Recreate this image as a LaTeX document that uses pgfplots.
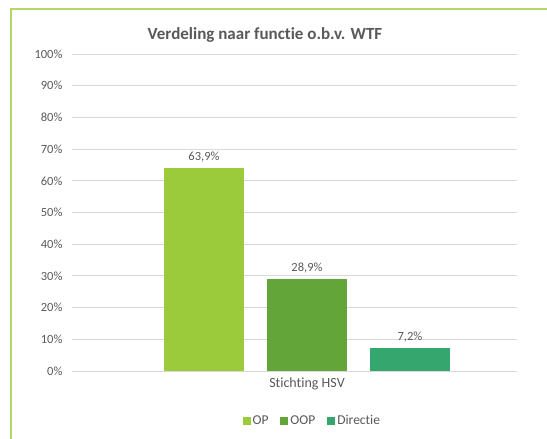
\documentclass[border=0pt]{standalone}
\usepackage{pgfplots}
\pgfplotsset{compat=1.18}
\usepackage{fontspec}
\setmainfont{Carlito}[Ligatures={NoCommon,NoRare,NoDiscretionary}]
\definecolor{cOP}{RGB}{155,203,59}
\definecolor{cOOP}{RGB}{99,165,57}
\definecolor{cDir}{RGB}{52,166,110}
\definecolor{frame}{RGB}{178,214,106}
\definecolor{txt}{RGB}{89,89,89}
\definecolor{gridc}{RGB}{217,217,217}
\begin{document}
\begin{tikzpicture}[x=1pt,y=1pt]
\useasboundingbox (0,0) rectangle (547,439);
\draw[frame,line width=1.2pt] (11,0) -- (11,430) -- (548,430);
\node[font=\bfseries\fontsize{17}{20}\selectfont, text=txt] at (265,404) {Verdeling naar functie o.b.v. WTF};
\begin{axis}[
  at={(72pt,68pt)}, anchor=south west,
  width=445pt, height=317pt, scale only axis,
  xmin=72, xmax=517, ymin=0, ymax=100,
  ytick={0,10,...,100},
  yticklabel={\pgfmathprintnumber{\tick}\%},
  xtick={307}, xticklabels={Stichting HSV},
  /pgf/number format/assume math mode=true,
  ticklabel style={font=\fontsize{12.5}{14}\selectfont, text=txt},
  y tick label style={xshift=-6pt},
  x tick label style={font=\fontsize{14}{16}\selectfont, yshift=-3pt},
  major tick length=0pt,
  ymajorgrids, grid style={gridc, line width=0.8pt},
  axis line style={draw=none},
  ybar, bar width=80, bar shift=0pt,
  nodes near coords style={font=\fontsize{12.5}{14}\selectfont, text=txt, yshift=3pt},
  legend style={at={(0.54,-0.158)}, anchor=center, draw=none, legend columns=3,
    font=\fontsize{13.5}{16}\selectfont, text=txt, /tikz/every even column/.append style={column sep=10pt},
    legend cell align=left},
  legend image code/.code={\fill[#1] (0,-4pt) rectangle (8pt,4pt);},
  clip=false,
]
\addplot[fill=cOP, draw=none, nodes near coords={63,9\%}] coordinates {(204,63.9)};
\addlegendentry{OP}
\addplot[fill=cOOP, draw=none, nodes near coords={28,9\%}] coordinates {(307,28.9)};
\addlegendentry{OOP}
\addplot[fill=cDir, draw=none, nodes near coords={7,2\%}] coordinates {(410,7.2)};
\addlegendentry{Directie}
\end{axis}
\end{tikzpicture}
\end{document}
